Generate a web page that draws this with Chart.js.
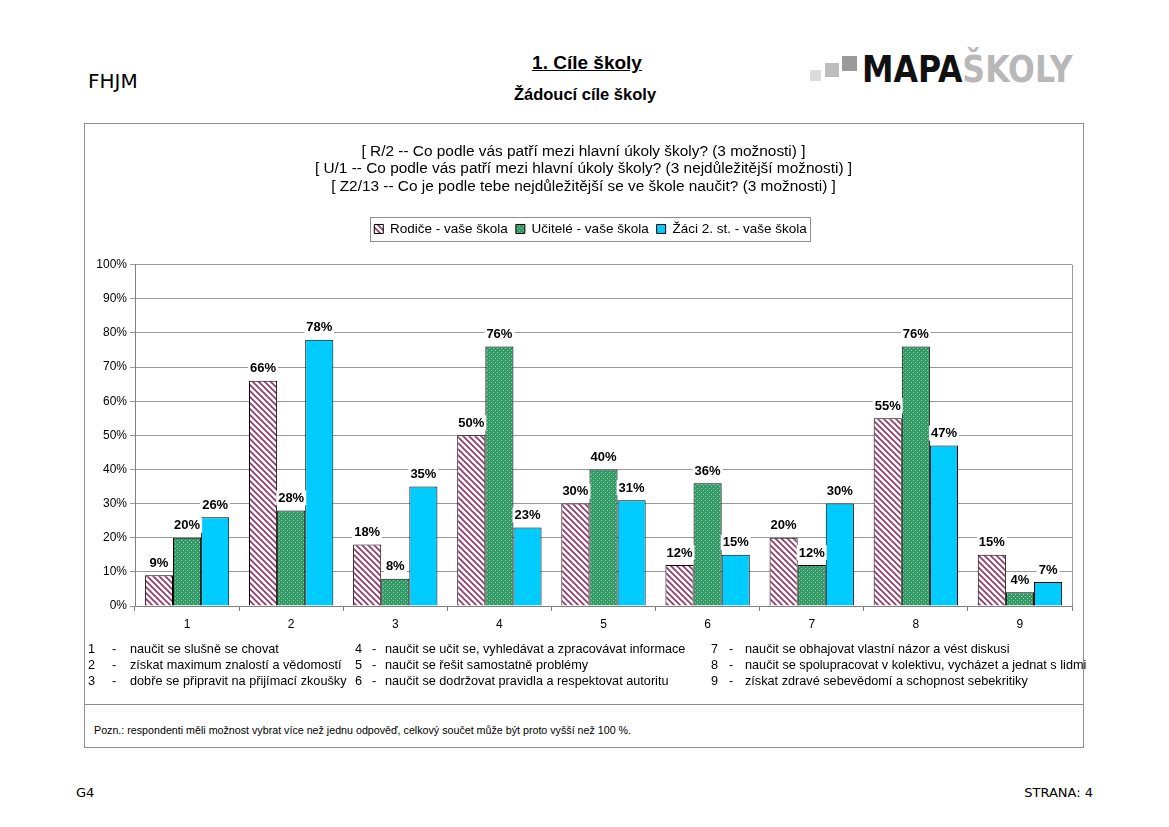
<!DOCTYPE html>
<html>
<head>
<meta charset="utf-8">
<script src="https://cdn.jsdelivr.net/npm/chart.js@4.4.1/dist/chart.umd.min.js"></script>
<style>
  html, body { margin: 0; padding: 0; background: #fff; }
  body { width: 1169px; height: 827px; position: relative; overflow: hidden; font-family: Arial, "Liberation Sans", sans-serif; }
  .abs { position: absolute; white-space: nowrap; }
  #box { position: absolute; left: 84px; top: 123px; width: 998px; height: 623px; border: 1px solid #8c8c8c; }
  #sep { position: absolute; left: 84px; top: 704px; width: 999px; height: 1px; background: #8c8c8c; }
  #wrap { position: absolute; left: 85px; top: 124px; width: 997px; height: 580px; }
  .fn { font-size: 12.7px; color: #000; line-height: 16px; }
</style>
</head>
<body>
<div class="abs" style="left:88px; top:69px; font-family:'DejaVu Sans'; font-size:20px;">FHJM</div>
<div class="abs" style="left:387px; width:400px; text-align:center; top:52px; font-weight:bold; font-size:19px; text-decoration:underline;">1. Cíle školy</div>
<div class="abs" style="left:385px; width:400px; text-align:center; top:85px; font-weight:bold; font-size:16.5px;">Žádoucí cíle školy</div>

<div class="abs" style="left:810px; top:70px; width:11px; height:11px; background:#dcdcdc;"></div>
<div class="abs" style="left:825px; top:63px; width:14px; height:14px; background:#bdbdbd;"></div>
<div class="abs" style="left:842px; top:56px; width:15px; height:15px; background:#9a9a9a;"></div>
<div class="abs" style="left:862px; top:48px; font-family:'DejaVu Sans Condensed','DejaVu Sans'; font-stretch:condensed; font-weight:bold; font-size:37px; transform:scaleX(0.95); transform-origin:left top;"><span style="color:#111">MAPA</span><span style="color:#b8b8b8">ŠKOLY</span></div>

<div id="box"></div>
<div id="sep"></div>
<div id="wrap"><canvas id="c"></canvas></div>

<div class="abs fn" style="left:86px; top:641px;" id="fn1"></div>

<div class="abs" style="left:94px; top:724px; font-size:10.7px;">Pozn.: respondenti měli možnost vybrat více než jednu odpověď, celkový součet může být proto vyšší než 100 %.</div>

<div class="abs" style="left:76px; top:785px; font-family:'DejaVu Sans'; font-size:13px;">G4</div>
<div class="abs" style="right:76px; top:785px; font-family:'DejaVu Sans'; font-size:13px;">STRANA: 4</div>

<script>
const categories = ['1','2','3','4','5','6','7','8','9'];
const seriesNames = ['Rodiče - vaše škola', 'Učitelé - vaše škola', 'Žáci 2. st. - vaše škola'];
const rodice  = [9, 66, 18, 50, 30, 12, 20, 55, 15];
const ucitele = [20, 28, 8, 76, 40, 36, 12, 76, 4];
const zaci    = [26, 78, 35, 23, 31, 15, 30, 47, 7];
const questionLines = [
  '[ R/2 -- Co podle vás patří mezi hlavní úkoly školy? (3 možnosti) ]',
  '[ U/1 -- Co podle vás patří mezi hlavní úkoly školy? (3 nejdůležitější možnosti) ]',
  '[ Z2/13 -- Co je podle tebe nejdůležitější se ve škole naučit? (3 možnosti) ]'
];
const categoryNotes = [
  'naučit se slušně se chovat',
  'získat maximum znalostí a vědomostí',
  'dobře se připravit na přijímací zkoušky',
  'naučit se učit se, vyhledávat a zpracovávat informace',
  'naučit se řešit samostatně problémy',
  'naučit se dodržovat pravidla a respektovat autoritu',
  'naučit se obhajovat vlastní názor a vést diskusi',
  'naučit se spolupracovat v kolektivu, vycházet a jednat s lidmi',
  'získat zdravé sebevědomí a schopnost sebekritiky'
];

// footnote legend of categories
(function(){
  const colX = [[88, 112, 130], [355, 372, 385], [711, 729, 745]];
  let html = '';
  categoryNotes.forEach((t, i) => {
    const col = Math.floor(i / 3), row = i % 3;
    const top = 641 + row * 16;
    html += `<div class="abs fn" style="left:${colX[col][0]}px;top:${top}px">${categories[i]}</div>`;
    html += `<div class="abs fn" style="left:${colX[col][1]}px;top:${top}px">-</div>`;
    html += `<div class="abs fn" style="left:${colX[col][2]}px;top:${top}px">${t}</div>`;
  });
  document.getElementById('fn1').outerHTML = html;
})();

function stripePattern() {
  const c = document.createElement('canvas');
  c.width = 6; c.height = 6;
  const g = c.getContext('2d');
  g.fillStyle = '#fff'; g.fillRect(0, 0, 6, 6);
  g.strokeStyle = '#993366'; g.lineWidth = 1.6;
  g.beginPath();
  g.moveTo(-1, -1); g.lineTo(7, 7);
  g.moveTo(-4, 2); g.lineTo(4, 10);
  g.moveTo(2, -4); g.lineTo(10, 4);
  g.stroke();
  return g.createPattern(c, 'repeat');
}
function dotPattern() {
  const c = document.createElement('canvas');
  c.width = 4; c.height = 4;
  const g = c.getContext('2d');
  g.fillStyle = '#339966'; g.fillRect(0, 0, 4, 4);
  g.fillStyle = '#8fd3ac';
  g.fillRect(0, 0, 1, 1); g.fillRect(2, 2, 1, 1);
  return g.createPattern(c, 'repeat');
}

const ctxEl = document.getElementById('c');
const stripes = stripePattern();
const dots = dotPattern();

const dataLabels = {
  id: 'dataLabels',
  afterDatasetsDraw(chart) {
    const ctx = chart.ctx;
    ctx.save();
    ctx.font = 'bold 13px Arial, "Liberation Sans"';
    ctx.textAlign = 'center';
    ctx.textBaseline = 'middle';
    chart.data.datasets.forEach((ds, di) => {
      const meta = chart.getDatasetMeta(di);
      meta.data.forEach((el, i) => {
        const txt = ds.data[i] + '%';
        const w = ctx.measureText(txt).width;
        const cy = el.y - 13;
        ctx.fillStyle = '#fff';
        ctx.fillRect(el.x - w / 2 - 2, cy - 7, w + 4, 15);
        ctx.fillStyle = '#000';
        ctx.fillText(txt, el.x, cy + 1);
      });
    });
    ctx.restore();
  }
};

const plotBorder = {
  id: 'plotBorder',
  beforeDatasetsDraw(chart) {
    const a = chart.chartArea, ctx = chart.ctx;
    ctx.save();
    ctx.strokeStyle = '#999';
    ctx.lineWidth = 1;
    ctx.beginPath();
    ctx.moveTo(Math.round(a.right) + 0.5, a.top);
    ctx.lineTo(Math.round(a.right) + 0.5, a.bottom);
    ctx.stroke();
    ctx.restore();
  }
};

const legendBox = {
  id: 'legendBox',
  beforeInit(chart) {
    const fit = chart.legend.fit;
    chart.legend.fit = function () { fit.bind(chart.legend)(); this.height += 19; };
  },
  afterLayout(chart) {
    // shift title and legend horizontally to their positions in the reference
    chart.titleBlock.left += 5; chart.titleBlock.right += 5;
    chart.legend.left += 12; chart.legend.right += 12;
  },
  afterDraw(chart) {
    const hb = chart.legend.legendHitBoxes;
    if (!hb || !hb.length) return;
    const left = Math.min(...hb.map(b => b.left)) - 4;
    const right = Math.max(...hb.map(b => b.left + b.width)) + 4;
    const top = hb[0].top - 5, h = hb[0].height + 10;
    const ctx = chart.ctx;
    ctx.save();
    ctx.strokeStyle = '#8c8c8c';
    ctx.lineWidth = 1;
    ctx.strokeRect(Math.round(left) + 0.5, Math.round(top) + 0.5, Math.round(right - left), Math.round(h));
    ctx.restore();
  }
};

new Chart(ctxEl, {
  type: 'bar',
  data: {
    labels: categories,
    datasets: [
      { label: seriesNames[0], data: rodice, backgroundColor: stripes, borderColor: '#000', borderWidth: 1 },
      { label: seriesNames[1], data: ucitele, backgroundColor: dots, borderColor: '#000', borderWidth: 1 },
      { label: seriesNames[2], data: zaci, backgroundColor: '#00ccff', borderColor: '#000', borderWidth: 1 }
    ]
  },
  options: {
    responsive: true,
    maintainAspectRatio: false,
    animation: false,
    devicePixelRatio: 1,
    layout: { padding: { left: 0, right: 10, top: 0, bottom: 0 } },
    datasets: { bar: { categoryPercentage: 0.81, barPercentage: 1.0 } },
    plugins: {
      title: {
        display: true,
        text: questionLines,
        color: '#000',
        font: { family: 'Arial, "Liberation Sans"', size: 15.4, weight: 'normal', lineHeight: 1.13 },
        padding: { top: 19, bottom: 19 }
      },
      legend: {
        display: true,
        position: 'top',
        labels: {
          color: '#000',
          font: { family: 'Arial, "Liberation Sans"', size: 13.5 },
          boxWidth: 9, boxHeight: 9, padding: 8
        }
      },
      tooltip: { enabled: false }
    },
    scales: {
      x: {
        offset: true,
        grid: { display: true, offset: true, drawOnChartArea: false, drawTicks: true, tickLength: 5, color: '#808080' },
        border: { display: true, color: '#808080' },
        ticks: { color: '#000', font: { family: 'Arial, "Liberation Sans"', size: 12 }, padding: 6 },
        afterFit(scale) { scale.height = 98; }
      },
      y: {
        min: 0, max: 100,
        grid: { color: '#999', tickLength: 5, drawTicks: true },
        border: { display: true, color: '#808080' },
        ticks: { stepSize: 10, color: '#000', font: { family: 'Arial, "Liberation Sans"', size: 12 }, padding: 3, callback: v => v + '%' },
        afterFit(scale) { scale.width = 50; }
      }
    }
  },
  plugins: [dataLabels, plotBorder, legendBox]
});
</script>
</body>
</html>
